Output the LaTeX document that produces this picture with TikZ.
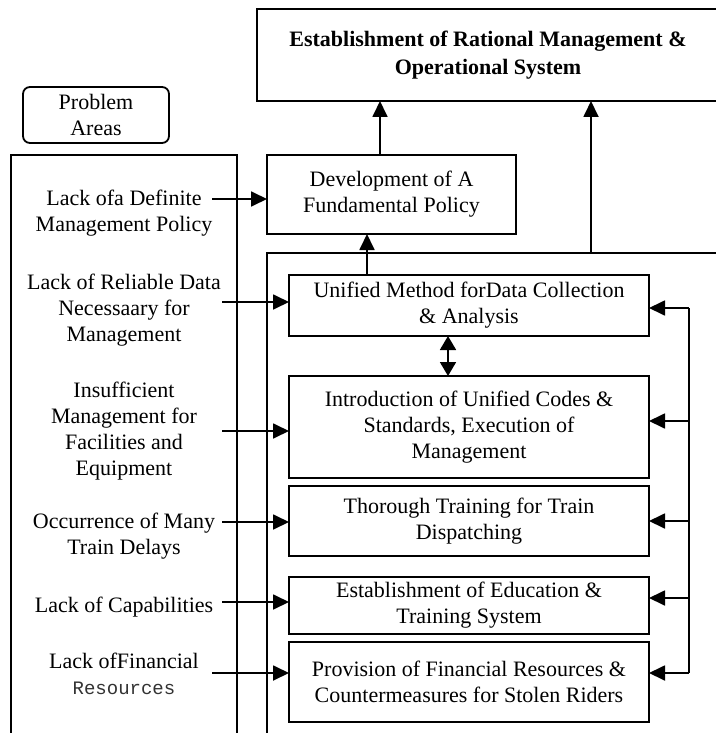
\documentclass[tikz,border=0pt]{standalone}
\usepackage{fontspec}
\setmainfont{Liberation Serif}
\newfontfamily\monofam{Liberation Mono}
\usetikzlibrary{arrows.meta}
\begin{document}
\begin{tikzpicture}[x=1pt,y=-1pt,
  box/.style={draw, line width=1.8pt, inner sep=0pt, outer sep=0pt, align=center,
    font=\fontsize{22}{26}\selectfont},
  probtext/.style={inner sep=0pt, align=center, font=\fontsize{22}{26}\selectfont},
  conn/.style={line width=1.8pt},
  arr/.style={conn, -{Triangle[length=16pt,width=15pt]}},
  darr/.style={conn, {Triangle[length=14pt,width=16pt]}-{Triangle[length=14pt,width=16pt]}}]
  \fill[white] (0,0) rectangle (715,733);
  \useasboundingbox (0,0) rectangle (715,733);

  % goal
  \node[box, minimum width=462, minimum height=92,
    font=\bfseries\fontsize{22}{28}\selectfont] (goal) at (488,55)
    {Establishment of Rational Management \&\\Operational System};

  % problem side
  \node[box, rounded corners=7pt, minimum width=146, minimum height=56] (plabel) at (96,115)
    {Problem\\Areas};
  \node[box, minimum width=226, minimum height=590] (problems) at (124,450) {};
  \node[probtext] (t1) at (124,213) {Lack ofa Definite\\Management Policy};
  \node[probtext] (t2) at (124,310) {Lack of Reliable Data\\Necessaary for\\Management};
  \node[probtext] (t3) at (124,431) {Insufficient\\Management for\\Facilities and\\Equipment};
  \node[probtext] (t4) at (124,536) {Occurrence of Many\\Train Delays};
  \node[probtext] (t5) at (124,607) {Lack of Capabilities};
  \node[probtext] (t6) at (124,674) {Lack ofFinancial\\{\monofam\fontsize{19}{26}\selectfont\color{black!80}Resources}};

  % measures side
  \node[box, minimum width=249, minimum height=79] (dev) at (391.5,194.5)
    {Development of A\\Fundamental Policy};
  \node[box, minimum width=452, minimum height=492] (measures) at (493,499) {};
  \node[box, minimum width=360, minimum height=61] (unified) at (469,305.5)
    {Unified Method forData Collection\\\& Analysis};
  \node[box, minimum width=360, minimum height=102] (intro) at (469,427)
    {Introduction of Unified Codes \&\\Standards, Execution of\\Management};
  \node[box, minimum width=360, minimum height=70] (thorough) at (469,521)
    {Thorough Training for Train\\Dispatching};
  \node[box, minimum width=360, minimum height=57] (edu) at (469,605.5)
    {Establishment of Education \&\\Training System};
  \node[box, minimum width=360, minimum height=80] (provision) at (469,682)
    {Provision of Financial Resources \&\\Countermeasures for Stolen Riders};

  % upward links to the goal
  \draw[arr] ([xshift=-11.5pt]dev.north) -- ([xshift=-11.5pt]dev.north |- goal.south);
  \coordinate (m2) at (591,253);
  \draw[arr] (m2) -- (m2 |- goal.south);
  \draw[arr] ([xshift=-102pt]unified.north) -- ([xshift=-102pt]unified.north |- dev.south);
  \draw[darr] ([xshift=-21pt]unified.south) -- ([xshift=-21pt]intro.north);

  % problems to measures
  \coordinate (p1) at (212,199);
  \coordinate (p2) at (222,302);
  \coordinate (p3) at (222,431);
  \coordinate (p4) at (222,522);
  \coordinate (p5) at (222,602);
  \coordinate (p6) at (212,673);
  \draw[arr] (p1) -- (p1 -| dev.west);
  \draw[arr] (p2) -- (p2 -| unified.west);
  \draw[arr] (p3) -- (p3 -| intro.west);
  \draw[arr] (p4) -- (p4 -| thorough.west);
  \draw[arr] (p5) -- (p5 -| edu.west);
  \draw[arr] (p6) -- (p6 -| provision.west);

  % feedback bus on the right
  \coordinate (f1) at (689,308);
  \coordinate (f2) at (689,421);
  \coordinate (f3) at (689,521);
  \coordinate (f4) at (689,598);
  \coordinate (f5) at (689,673);
  \draw[conn] (f1) -- (f5);
  \draw[arr] (f1) -- (f1 -| unified.east);
  \draw[arr] (f2) -- (f2 -| intro.east);
  \draw[arr] (f3) -- (f3 -| thorough.east);
  \draw[arr] (f4) -- (f4 -| edu.east);
  \draw[arr] (f5) -- (f5 -| provision.east);
\end{tikzpicture}
\end{document}
